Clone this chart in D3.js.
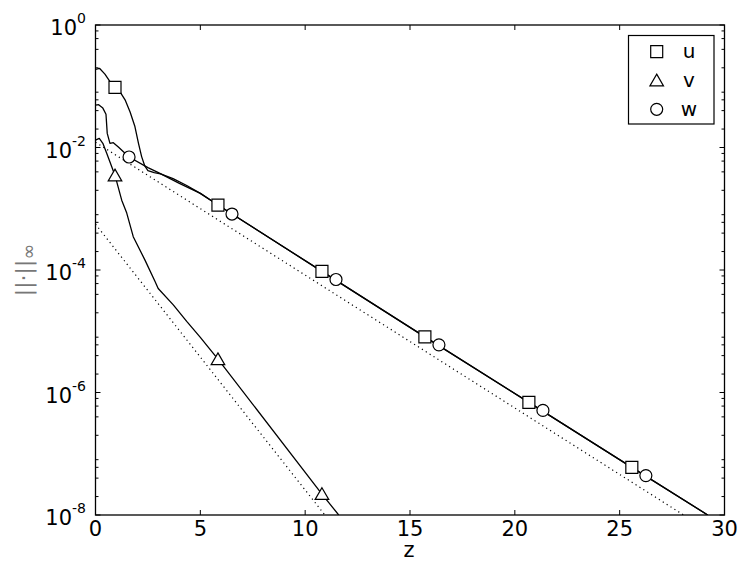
<!DOCTYPE html>
<html><head><meta charset="utf-8">
<script src="https://cdn.jsdelivr.net/npm/d3@7"></script>
<style>html,body{margin:0;padding:0;background:#fff}svg{display:block}text{font-family:"DejaVu Sans",sans-serif}</style>
</head><body>
<svg id="c" width="746" height="565"></svg>
<script>
// ---- data ----
const uHead = [[0,0.189],[0.2,0.195],[0.45,0.158],[0.69,0.119],[0.93,0.096],[1.2,0.078],[1.41,0.060],[1.65,0.038],[1.88,0.022],[2.05,0.0117],[2.2,0.0071],[2.35,0.0050],[2.5,0.0042],[2.8,0.0039],[3.1,0.0037],[3.7,0.0031],[4.35,0.0024]];
const wHead = [[0,0.049],[0.15,0.050],[0.35,0.044],[0.5,0.035],[0.56,0.017],[0.69,0.0117],[0.85,0.012],[1.09,0.0102],[1.6,0.0070],[2.5,0.0047],[3.0,0.0039],[4.0,0.0026]];
// u and w coincide from z = 5 on
const uwTail = [[5.0,0.00178],[5.84,0.00115],[10.8,9.5e-5],[15.71,8.1e-6],[20.67,6.9e-7],[25.58,6.0e-8],[29.2,1e-8]];
const vCurve = [[0,0.0132],[0.18,0.0141],[0.35,0.0117],[0.53,0.0081],[0.93,0.0035],[1.25,0.00138],[1.49,8.5e-4],[1.8,3.5e-4],[2.36,1.45e-4],[2.84,6.5e-5],[2.99,5.0e-5],[3.71,2.7e-5],[4.35,1.45e-5],[4.98,8.1e-6],[5.84,3.5e-6],[10.8,2.2e-8],[11.6,1e-8]];
const uMarkers = [[0.93,0.096],[5.84,0.00115],[10.8,9.5e-5],[15.71,8.1e-6],[20.67,6.9e-7],[25.58,6.0e-8]];
const vMarkers = [[0.93,0.0035],[5.84,3.5e-6],[10.8,2.2e-8]];
const wMarkers = [[1.6,0.0070],[6.51,8.2e-4],[11.47,7.0e-5],[16.38,6.0e-6],[21.34,5.1e-7],[26.25,4.4e-8]];
const refUW = [[0,0.0122],[28.05,1e-8]];
const refV = [[0,5.6e-4],[10.94,1e-8]];
const xTicks = [0,5,10,15,20,25,30];
const yTickExps = [-8,-6,-4,-2,0];
const yMinorSubs = [2,4,6,8];
const legendNames = ["u","v","w"];

const uCurve = uHead.concat(uwTail);
const wCurve = wHead.concat(uwTail);

// ---- layout ----
const L=95.5, R=724.5, T=25, B=515;
const svg = d3.select("#c");
const x = d3.scaleLinear().domain([0,30]).range([L,R]);
const y = d3.scaleLog().domain([1e-8,1]).range([B,T]);

svg.append("defs").append("clipPath").attr("id","pc")
  .append("rect").attr("x",L).attr("y",T).attr("width",R-L).attr("height",B-T);

const line = d3.line().x(d=>x(d[0])).y(d=>y(d[1]));
const g = svg.append("g").attr("clip-path","url(#pc)");

// reference dotted lines
[refUW, refV].forEach(r=>{
  g.append("path").attr("d",line(r)).attr("fill","none").attr("stroke","#000")
   .attr("stroke-width",1.2).attr("stroke-dasharray","1.2,3.4");
});
// curves
[uCurve, vCurve, wCurve].forEach(c=>{
  g.append("path").attr("d",line(c)).attr("fill","none").attr("stroke","#000")
   .attr("stroke-width",1.3).attr("stroke-linejoin","round");
});

// markers
const sym = {
  u: d3.symbol().type(d3.symbolSquare).size(144),
  v: d3.symbol().type(d3.symbolTriangle).size(80),
  w: d3.symbol().type(d3.symbolCircle).size(113)
};
function drawMarkers(sel, pts, key){
  sel.selectAll(null).data(pts).enter().append("path")
    .attr("d", sym[key]())
    .attr("transform", d=>`translate(${x(d[0])},${y(d[1]) + (key==="v"?1.5:0)})`)
    .attr("fill","#fff").attr("stroke","#000").attr("stroke-width",1.2);
}
const mg = svg.append("g");
drawMarkers(mg, uMarkers, "u");
drawMarkers(mg, vMarkers, "v");
drawMarkers(mg, wMarkers, "w");

// ticks (inside, on all four sides)
const minorVals = [];
for (let d=-8; d<0; d++) yMinorSubs.forEach(k=>minorVals.push(k*Math.pow(10,d)));
const majorVals = yTickExps.map(e=>Math.pow(10,e));
const tg = svg.append("g").attr("stroke","#000").attr("stroke-width",1);
xTicks.forEach(v=>{
  tg.append("line").attr("x1",x(v)).attr("x2",x(v)).attr("y1",B).attr("y2",B-5);
  tg.append("line").attr("x1",x(v)).attr("x2",x(v)).attr("y1",T).attr("y2",T+5);
});
majorVals.forEach(v=>{
  tg.append("line").attr("x1",L).attr("x2",L+5).attr("y1",y(v)).attr("y2",y(v));
  tg.append("line").attr("x1",R).attr("x2",R-5).attr("y1",y(v)).attr("y2",y(v));
});
minorVals.forEach(v=>{
  tg.append("line").attr("x1",L).attr("x2",L+3).attr("y1",y(v)).attr("y2",y(v));
  tg.append("line").attr("x1",R).attr("x2",R-3).attr("y1",y(v)).attr("y2",y(v));
});

// frame
svg.append("rect").attr("x",L).attr("y",T).attr("width",R-L).attr("height",B-T)
  .attr("fill","none").attr("stroke","#000").attr("stroke-width",1.3);

// x tick labels
svg.selectAll(".xl").data(xTicks).enter().append("text")
  .attr("x",d=>x(d)).attr("y",536).attr("text-anchor","middle")
  .attr("font-size",21).attr("fill","#000").text(d=>d);

// y tick labels with superscripts
yTickExps.forEach(e=>{
  const yy = y(Math.pow(10,e));
  const t = svg.append("text").attr("x",L-9.5).attr("y",yy+10).attr("text-anchor","end")
    .attr("font-size",21).attr("fill","#000");
  t.append("tspan").text("10");
  t.append("tspan").attr("font-size",14).attr("dy",-12).text(String(e));
});

// axis labels
svg.append("text").attr("x",409).attr("y",557).attr("text-anchor","middle")
  .attr("font-size",21).attr("fill","#000").text("z");
const yl = svg.append("text").attr("transform","translate(31,270) rotate(-90)")
  .attr("text-anchor","middle").attr("font-size",22).attr("fill","#777");
yl.append("tspan").text("||·||");
yl.append("tspan").attr("font-size",19).attr("dy",4).text("∞");

// legend
const lg = svg.append("g");
lg.append("rect").attr("x",628.5).attr("y",35.5).attr("width",85.5).attr("height",88.5)
  .attr("fill","#fff").attr("stroke","#000").attr("stroke-width",1.2);
const legY = [51.7, 80.5, 109.3];
["u","v","w"].forEach((k,i)=>{
  lg.append("path").attr("d",sym[k]()).attr("transform",`translate(656.7,${legY[i]+(k==="v"?1.5:0)})`)
    .attr("fill","#fff").attr("stroke","#000").attr("stroke-width",1.2);
  lg.append("text").attr("x",689).attr("y",legY[i]+6.5).attr("text-anchor","middle")
    .attr("font-size",20).attr("fill","#000").text(legendNames[i]);
});
</script>
</body></html>
